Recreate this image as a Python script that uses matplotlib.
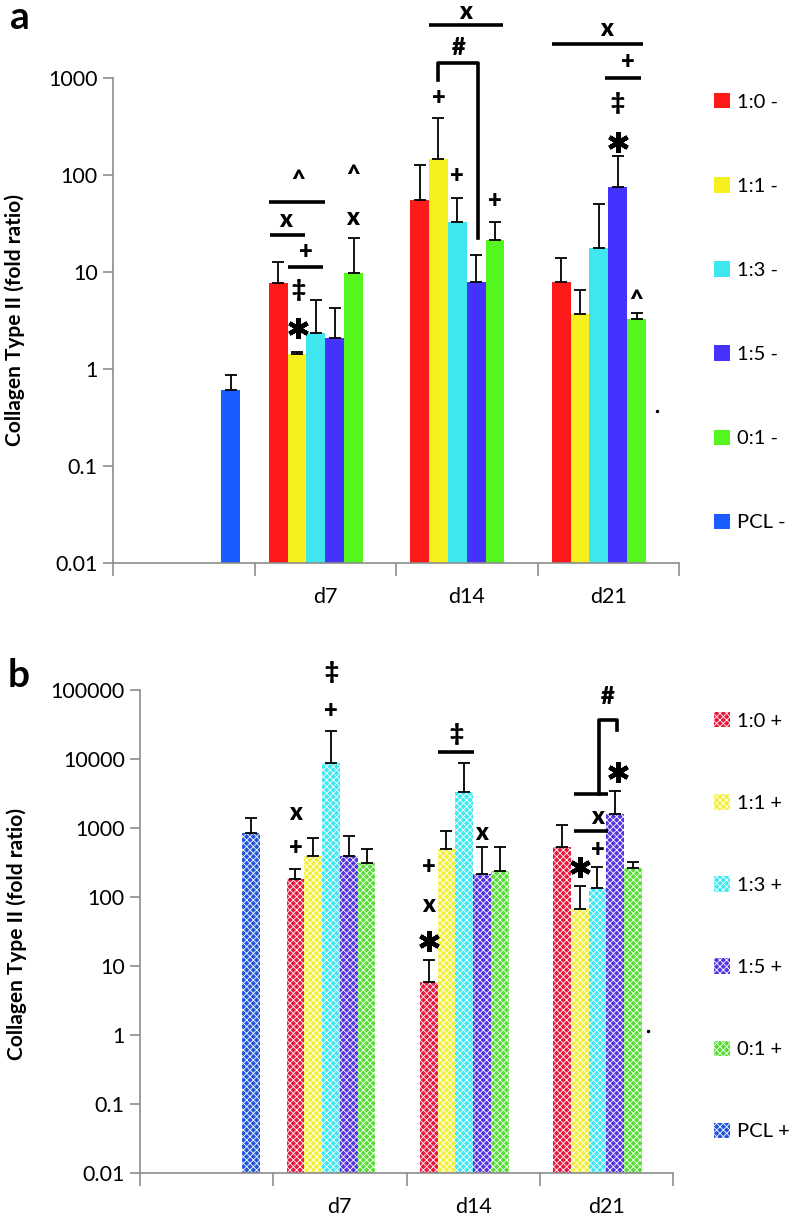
import numpy as np
import matplotlib
matplotlib.use("Agg")
import matplotlib.pyplot as plt
from matplotlib.patches import Patch

plt.rcParams['font.family'] = ['Lato', 'DejaVu Sans']
plt.rcParams['hatch.linewidth'] = 0.6

categories = ['', 'd7', 'd14', 'd21']

# panel a (no stimulation) - mean and upper error per category (None = no bar)
labels_a = ['1:0 -', '1:1 -', '1:3 -', '1:5 -', '0:1 -', 'PCL -']
a_10 = [None, 7.7, 55, 7.9]
a_10_err = [None, 5.0, 72, 6.0]
a_11 = [None, 1.43, 146, 3.7]
a_11_err = [None, 0.07, 241, 2.8]
a_13 = [None, 2.35, 32.7, 17.7]
a_13_err = [None, 2.75, 25, 32]
a_15 = [None, 2.09, 7.9, 75]
a_15_err = [None, 2.16, 7.1, 82]
a_01 = [None, 9.8, 21.4, 3.27]
a_01_err = [None, 12.6, 11.3, 0.51]
a_pcl = [0.61, None, None, None]
a_pcl_err = [0.26, None, None, None]

# panel b (with stimulation)
labels_b = ['1:0 +', '1:1 +', '1:3 +', '1:5 +', '0:1 +', 'PCL +']
b_10 = [None, 182, 5.86, 531]
b_10_err = [None, 73, 6.3, 573]
b_11 = [None, 393, 497, 67]
b_11_err = [None, 323, 408, 77]
b_13 = [None, 8750, 3330, 135]
b_13_err = [None, 16750, 5420, 137]
b_15 = [None, 393, 215, 1596]
b_15_err = [None, 373, 316, 1838]
b_01 = [None, 311, 238, 263]
b_01_err = [None, 186, 293, 58]
b_pcl = [847, None, None, None]
b_pcl_err = [549, None, None, None]

colors_a = ['#FF1A1A', '#F5F01E', '#3FE6EE', '#4433FF', '#55F51E', '#1A5CFF']
colors_b = ['#E8173F', '#F2EE3A', '#3EE8F0', '#5533E0', '#55DD33', '#2255DD']

# significance marks: (category, slot, y, symbol)
marks_a = [
    (1, 1.05, 2.65, '*'), (1, 1.05, 6.5, '‡'), (1, 1.48, 16.1, '+'),
    (1, 0.42, 34.4, 'x'), (1, 1.05, 88.7, '^'), (1, 3.97, 36, 'x'),
    (1, 3.97, 100, '^'),
    (2, 1, 622, '+'), (2, 2, 98, '+'), (2, 4, 54, '+'),
    (2, 2.09, 2037, '#'), (2, 2.41, 4786, 'x'),
    (3, 3, 219, '*'), (3, 3, 552, '‡'), (3, 3.53, 1462, '+'),
    (3, 2.4, 3200, 'x'), (3, 4, 5.14, '^'),
]
# horizontal lines: (category, edge_from, edge_to, y)
lines_a = [
    (1, 0.0, 3.0, 52.7), (1, 0.05, 1.95, 24), (1, 1.03, 2.9, 11.3),
    (2, 1.0, 4.9, 3516),
    (3, 2.83, 4.75, 1000), (3, 0.0, 4.85, 2244),
]
# brackets: (category, slot_left, slot_right, y_top, y_left_end, y_right_end)
brackets_a = [(2, 1.0, 3.1, 1429, 952, 22.4)]
dots_a = [(3.845, 0.37)]

marks_b = [
    (1, 2, 49700, '+'), (1, 2, 182000, '‡'), (1, 0, 513, '+'), (1, 0, 1650, 'x'),
    (2, 0, 23, '*'), (2, 0, 76.6, 'x'), (2, 0, 272, '+'), (2, 3, 847, 'x'),
    (2, 1.57, 23000, '‡'),
    (3, 1, 272, '*'), (3, 2, 480, '+'), (3, 2.0, 1445, 'x'),
    (3, 2.56, 79300, '#'), (3, 3.15, 6490, '*'),
]
lines_b = [(2, 1.05, 3.03, 12600), (3, 1.17, 3.08, 905), (3, 1.17, 3.08, 3110)]
brackets_b = [(3, 2.07, 3.1, 36700, 3110, 26300)]
dots_b = [(3.81, 1.14)]

W = 0.8 / 6
GREY = '#8c8c8c'


def slot_x(cat, j):
    return cat + 0.1 + (j + 0.5) * W


def edge_x(cat, e):
    return cat + 0.1 + e * W


def draw_panel(ax, series, errs, colors, labels, ymax, ticklabels,
               marks, lines, brackets, dots, hatched, leg_top, leg_space):
    ymin = 0.01
    ax.set_yscale('log')
    for j, (vals, ev) in enumerate(zip(series, errs)):
        for i, v in enumerate(vals):
            if v is None:
                continue
            x = slot_x(i, j)
            if hatched:
                ax.bar(x, v - ymin, bottom=ymin, width=W, color=colors[j],
                       edgecolor='white', linewidth=0, hatch='xxxxx', zorder=2)
            else:
                ax.bar(x, v - ymin, bottom=ymin, width=W, color=colors[j],
                       linewidth=0, zorder=2)
            ax.errorbar(x, v, yerr=[[0], [ev[i]]], fmt='none', ecolor='black',
                        elinewidth=1.3, capsize=4, capthick=1.3, zorder=3)

    for c, s, y, sym in marks:
        if sym == '*':
            # heavy six-spoke asterisk
            ax.plot(slot_x(c, s), y, marker=(6, 2, 0), ms=15, mew=3.2,
                    color='black', clip_on=False, zorder=5)
            continue
        ax.text(slot_x(c, s), y, sym, ha='center', va='center', fontsize=17,
                fontweight='heavy', clip_on=False, zorder=5)
    for c, e0, e1, y in lines:
        ax.plot([edge_x(c, e0), edge_x(c, e1)], [y, y], color='black', lw=2.6,
                clip_on=False, solid_capstyle='butt', zorder=5)
    for c, s0, s1, yt, yl, yr in brackets:
        x0, x1 = slot_x(c, s0), slot_x(c, s1)
        ax.plot([x0, x0, x1, x1], [yl, yt, yt, yr], color='black', lw=2.6,
                clip_on=False, zorder=5)
    for x, y in dots:
        ax.plot(x, y, 'k.', ms=3, clip_on=False)

    ax.set_xlim(0, 4)
    ax.set_ylim(ymin, ymax)
    ticks = [10.0 ** k for k in range(-2, int(np.log10(ymax)) + 1)]
    ax.set_yticks(ticks)
    ax.set_yticklabels(ticklabels)
    ax.yaxis.set_minor_locator(matplotlib.ticker.NullLocator())
    ax.set_xticks([0, 1, 2, 3, 4])
    ax.set_xticklabels([])
    ax.set_xticks([0.5, 1.5, 2.5, 3.5], minor=True)
    ax.set_xticklabels(categories, minor=True)
    ax.tick_params(axis='x', which='major', length=9, color=GREY, width=1.2)
    ax.tick_params(axis='x', which='minor', length=0, pad=17, labelsize=15.5)
    ax.tick_params(axis='y', length=7, color=GREY, width=1.2, labelsize=15.5, pad=4)
    for sp in ['top', 'right']:
        ax.spines[sp].set_visible(False)
    for sp in ['left', 'bottom']:
        ax.spines[sp].set_color(GREY)
        ax.spines[sp].set_linewidth(1.2)

    if hatched:
        handles = [Patch(facecolor=c, edgecolor='white', linewidth=0, hatch='xxxxx')
                   for c in colors]
    else:
        handles = [Patch(facecolor=c, linewidth=0) for c in colors]
    ax.legend(handles, labels, loc='upper left', bbox_to_anchor=(714 / 792, leg_top),
              bbox_transform=ax.figure.transFigure, frameon=False, fontsize=14.5,
              handlelength=0.8, handleheight=0.8, handletextpad=0.35,
              labelspacing=leg_space, borderpad=0, borderaxespad=0)


fig = plt.figure(figsize=(7.92, 12.18), dpi=100)
axA = fig.add_axes([113 / 792, 1 - 563 / 1218, 566 / 792, 485 / 1218])
axB = fig.add_axes([140 / 792, 1 - 1173 / 1218, 533 / 792, 483 / 1218])

draw_panel(axA, [a_10, a_11, a_13, a_15, a_01, a_pcl],
           [a_10_err, a_11_err, a_13_err, a_15_err, a_01_err, a_pcl_err],
           colors_a, labels_a, 1000, ['0.01', '0.1', '1', '10', '100', '1000'],
           marks_a, lines_a, brackets_a, dots_a, False, 1 - 93 / 1218, 3.3)
draw_panel(axB, [b_10, b_11, b_13, b_15, b_01, b_pcl],
           [b_10_err, b_11_err, b_13_err, b_15_err, b_01_err, b_pcl_err],
           colors_b, labels_b, 100000,
           ['0.01', '0.1', '1', '10', '100', '1000', '10000', '100000'],
           marks_b, lines_b, brackets_b, dots_b, True, 1 - 712 / 1218, 3.2)

fig.text(15 / 792, 1 - 320 / 1218, 'Collagen Type II (fold ratio)', rotation=90,
         ha='center', va='center', fontsize=15, fontweight='bold')
fig.text(17 / 792, 1 - 934 / 1218, 'Collagen Type II (fold ratio)', rotation=90,
         ha='center', va='center', fontsize=15, fontweight='bold')
fig.text(10 / 792, 1 - 29 / 1218, 'a', fontsize=28, fontweight='bold')
fig.text(8 / 792, 1 - 687 / 1218, 'b', fontsize=28, fontweight='bold')

fig.savefig('out.png', dpi=100)
